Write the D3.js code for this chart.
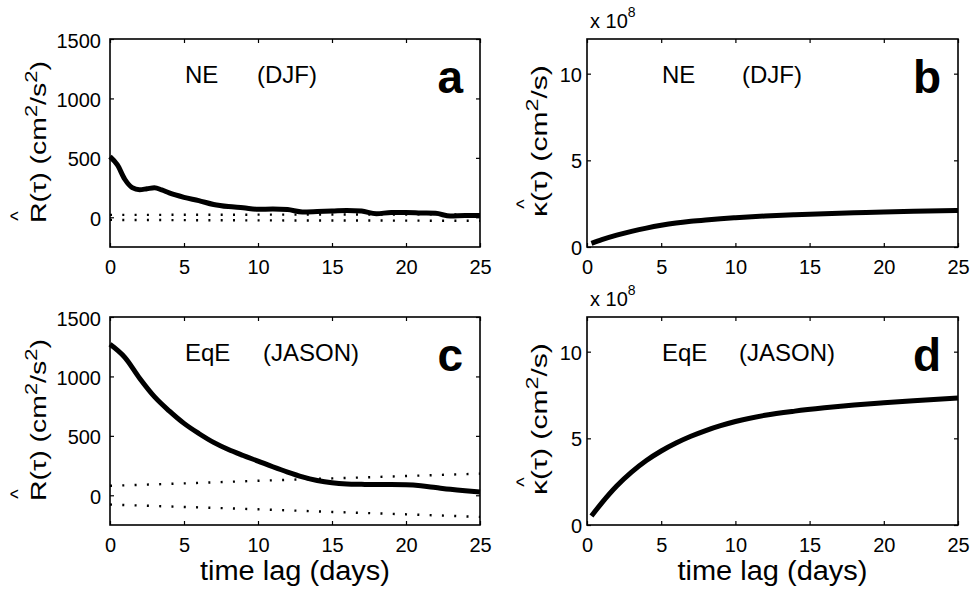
<!DOCTYPE html>
<html>
<head>
<meta charset="utf-8">
<script src="https://cdn.jsdelivr.net/npm/d3@7"></script>
<style>
  body { margin: 0; background: #fff; }
  text { font-family: "Liberation Sans", Arial, Helvetica, sans-serif; fill: #000; }
</style>
</head>
<body>
<main></main>
<script>
// ---- data ----
const lagA = [0, 0.5, 1, 1.5, 2, 2.5, 3, 3.5, 4, 5, 6, 7, 8, 9, 10, 11, 12, 13, 14, 15, 16, 17, 18, 19, 20, 21, 22, 23, 24, 25];
const rNE  = [510, 440, 320, 250, 232, 240, 248, 230, 205, 168, 140, 108, 90, 80, 67, 70, 65, 45, 48, 52, 58, 52, 30, 40, 40, 36, 33, 10, 15, 14];

const lagC  = [0, 1, 2, 3, 4, 5, 6, 7, 8, 9, 10, 11, 12, 13, 14, 15, 16, 17, 18, 19, 20, 21, 22, 23, 24, 25];
const rEqE  = [1270, 1160, 985, 830, 710, 605, 520, 445, 385, 335, 288, 240, 195, 155, 125, 105, 95, 92, 90, 90, 88, 80, 65, 50, 38, 28];

const lagBand  = [0, 5, 10, 15, 20, 25];
const bandNEup = [20, 21, 22, 23, 24, 25];
const bandNElo = [-22, -24, -26, -27, -28, -30];
const bandEqUp = [80, 100, 122, 142, 162, 182];
const bandEqLo = [-78, -98, -118, -140, -160, -182];

const lagK  = [0.3, 1, 2, 3, 4, 5, 6, 7, 8, 9, 10, 12, 14, 16, 18, 20, 22, 25];
const kNE   = [0.21, 0.42, 0.68, 0.9, 1.09, 1.25, 1.38, 1.48, 1.56, 1.63, 1.69, 1.79, 1.86, 1.92, 1.97, 2.02, 2.06, 2.11];
const kEqE  = [0.52, 1.28, 2.25, 3.05, 3.72, 4.27, 4.73, 5.12, 5.45, 5.73, 5.97, 6.33, 6.57, 6.76, 6.92, 7.05, 7.17, 7.33];

const xTicks = [0, 5, 10, 15, 20, 25];
const rTicks = [0, 500, 1000, 1500];
const kTicks = [0, 5, 10];

const labelR = [["R(τ) (cm", 0], ["2", 1], ["/s", 0], ["2", 1], [")", 0]];
const labelK = [["κ(τ) (cm", 0], ["2", 1], ["/s)", 0]];

const svg = d3.select("main").append("svg").attr("width", 973).attr("height", 591);
const fmt = d3.format("d");

function yLabel(g, bx, cy, parts, target, hatOff, hatDist) {
    const lab = g.append("g").attr("transform", `translate(${bx},${cy}) rotate(-90)`);
    const inner = lab.append("g");
    const t = inner.append("text").attr("font-size", 22);
    let up = false;
    parts.forEach(([s, sup]) => {
        const ts = t.append("tspan").text(s);
        if (sup && !up) { ts.attr("font-size", 17).attr("dy", -9); up = true; }
        else if (!sup && up) { ts.attr("dy", 9); up = false; }
        else if (sup) ts.attr("font-size", 17);
    });
    const len = t.node().getComputedTextLength();
    t.attr("x", -len / 2);
    inner.attr("transform", `scale(${target / len},1)`);
    lab.append("text").attr("font-size", 20).attr("text-anchor", "middle")
        .attr("x", -target / 2 + hatOff).attr("y", -hatDist + 10).text("^");
}

function panel(p) {
    const g = svg.append("g");
    const x = d3.scaleLinear().domain([0, 25]).range([p.left, p.right]);
    const y = d3.scaleLinear().domain(p.yDomain).range([p.bottom, p.top]);

    const ax = (axis, tr) => {
        const a = g.append("g").attr("transform", tr).call(axis);
        a.select(".domain").remove();
        a.selectAll("line").attr("stroke", "#000").attr("stroke-width", 1.2);
        a.selectAll("text").attr("font-size", 20).attr("fill", "#000")
            .style("font-family", '"Liberation Sans", Arial, sans-serif');
        return a;
    };
    ax(d3.axisBottom(x).tickValues(xTicks).tickSize(-4).tickFormat(fmt), `translate(0,${p.bottom})`)
        .selectAll("text").attr("y", 27).attr("dy", 0);
    ax(d3.axisTop(x).tickValues(xTicks).tickSize(-4).tickFormat(""), `translate(0,${p.top})`);
    ax(d3.axisLeft(y).tickValues(p.yTicks).tickSize(-4).tickFormat(fmt), `translate(${p.left},0)`)
        .selectAll("text").attr("x", -p.tickGap).attr("dy", p.tickDy);
    ax(d3.axisRight(y).tickValues(p.yTicks).tickSize(-4).tickFormat(""), `translate(${p.right},0)`);

    g.append("rect").attr("x", p.left).attr("y", p.top)
        .attr("width", p.right - p.left).attr("height", p.bottom - p.top)
        .attr("fill", "none").attr("stroke", "#000").attr("stroke-width", 1.6);

    const line = d3.line().x(d => x(d[0])).y(d => y(d[1])).curve(d3.curveMonotoneX);

    (p.bands || []).forEach(b => {
        g.append("path").datum(d3.zip(lagBand, b))
            .attr("d", line).attr("fill", "none").attr("stroke", "#000")
            .attr("stroke-width", 2.4).attr("stroke-dasharray", "2,10.3");
    });

    g.append("path").datum(d3.zip(p.lag, p.vals))
        .attr("d", line).attr("fill", "none").attr("stroke", "#000")
        .attr("stroke-width", 5).attr("stroke-linejoin", "round");

    g.append("text").attr("x", p.left + 75).attr("y", p.top + 44).attr("font-size", 24).text(p.region);
    g.append("text").attr("x", p.left + p.seasonDx).attr("y", p.top + 44).attr("font-size", 24).text(p.season);
    g.append("text").attr("x", p.right - 17).attr("y", p.top + 54).attr("text-anchor", "end")
        .attr("font-size", 46).attr("font-weight", "bold").text(p.letter);

    if (p.exp) {
        const e = g.append("text").attr("x", p.left + 3).attr("y", p.top - 11).attr("font-size", 20);
        e.append("tspan").text("x 10");
        e.append("tspan").attr("font-size", 14).attr("dy", -11).text("8");
    }

    if (p.kappa) yLabel(g, p.left - 40, (p.top + p.bottom) / 2 - 2, labelK, 152, 13, 26);
    else yLabel(g, p.left - 64, (p.top + p.bottom) / 2 - 1, labelR, 162, 7, 31);

    if (p.xlabel) {
        g.append("text").attr("x", (p.left + p.right) / 2).attr("y", 580)
            .attr("text-anchor", "middle").attr("font-size", 27)
            .attr("textLength", 190).attr("lengthAdjust", "spacingAndGlyphs")
            .text("time lag (days)");
    }
}

panel({ left: 110, right: 480, top: 39, bottom: 247, yDomain: [-250, 1500], yTicks: rTicks,
        tickGap: 9, tickDy: 8, lag: lagA, vals: rNE, bands: [bandNEup, bandNElo],
        region: "NE", season: "(DJF)", seasonDx: 147, letter: "a" });
panel({ left: 587, right: 958, top: 39, bottom: 247, yDomain: [0, 12], yTicks: kTicks,
        tickGap: 5, tickDy: 7.5, lag: lagK, vals: kNE, kappa: true, exp: true,
        region: "NE", season: "(DJF)", seasonDx: 155, letter: "b" });
panel({ left: 110, right: 480, top: 317, bottom: 525, yDomain: [-250, 1500], yTicks: rTicks,
        tickGap: 9, tickDy: 8, lag: lagC, vals: rEqE, bands: [bandEqUp, bandEqLo], xlabel: true,
        region: "EqE", season: "(JASON)", seasonDx: 153, letter: "c" });
panel({ left: 587, right: 958, top: 317, bottom: 525, yDomain: [0, 12], yTicks: kTicks,
        tickGap: 5, tickDy: 7.5, lag: lagK, vals: kEqE, kappa: true, exp: true, xlabel: true,
        region: "EqE", season: "(JASON)", seasonDx: 152, letter: "d" });
</script>
</body>
</html>
